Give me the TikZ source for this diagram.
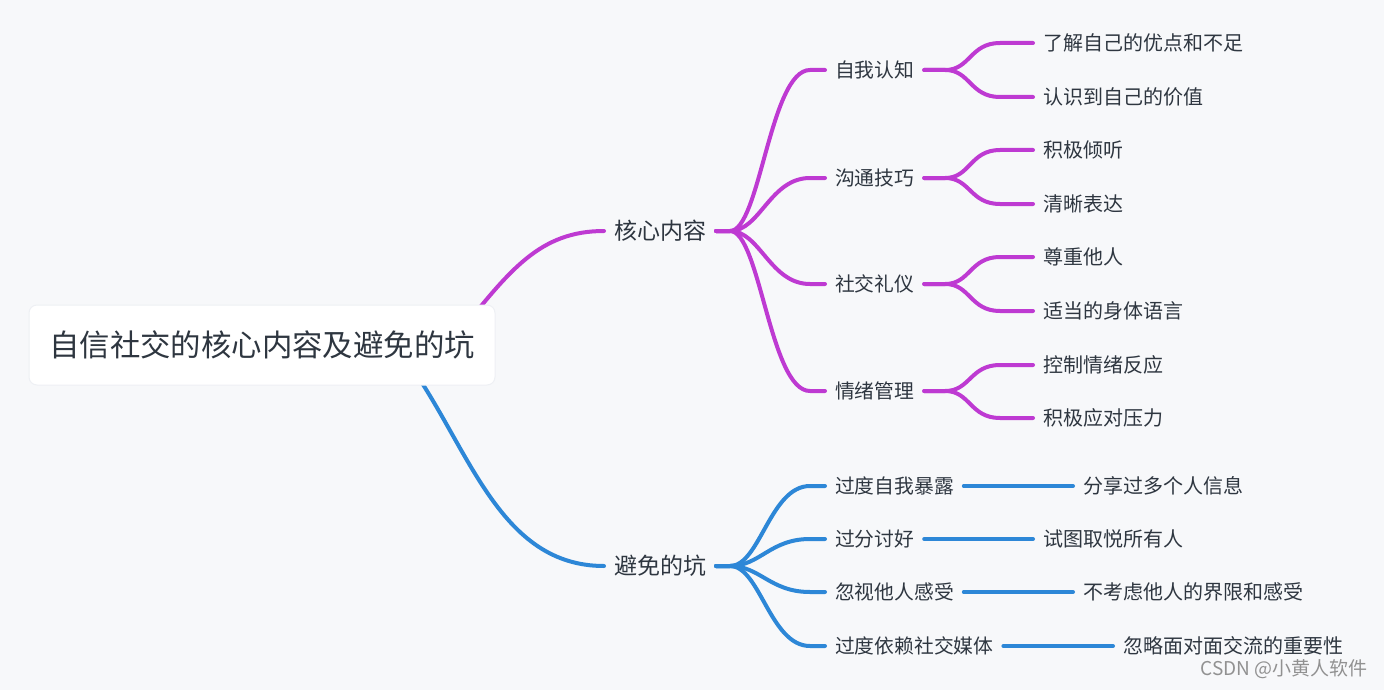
\documentclass[tikz,border=0pt]{standalone}
\usepackage{fontspec}
\setmainfont{Noto Sans CJK SC}
\definecolor{bg}{RGB}{247,248,250}
\definecolor{pur}{RGB}{190,58,210}
\definecolor{blu}{RGB}{45,135,215}
\definecolor{txt}{RGB}{46,54,64}
\definecolor{wm}{RGB}{145,145,145}
\definecolor{edge}{RGB}{238,240,244}
\tikzset{
  rootbox/.style={fill=white, draw=edge, line width=1pt, rounded corners=8pt, minimum width=466pt, minimum height=80pt, inner sep=0pt, text=txt, font=\fontsize{30.4}{36}\selectfont},
  lvlone/.style={anchor=west, inner sep=0pt, outer sep=10pt, text=txt, font=\fontsize{23}{28}\selectfont},
  lvltwo/.style={anchor=west, inner sep=0pt, outer sep=10pt, text=txt, font=\fontsize{19.8}{24}\selectfont},
  leaf/.style={anchor=west, inner sep=0pt, outer sep=10pt, text=txt, font=\fontsize{20}{24}\selectfont},
  purline/.style={draw=pur, line width=4pt, line cap=round},
  bluline/.style={draw=blu, line width=4pt, line cap=round},
}
\begin{document}
\begin{tikzpicture}[x=1pt,y=-1pt]
\fill[bg] (0,0) rectangle (1384,690);
\useasboundingbox (0,0) rectangle (1384,690);

% level 1 nodes
\node[lvlone] (core) at (604,231) {核心内容};
\node[lvlone] (avoid) at (604,566) {避免的坑};

% level 2 purple
\node[lvltwo] (a) at (825,70) {自我认知};
\node[lvltwo] (b) at (825,178) {沟通技巧};
\node[lvltwo] (c) at (825,284) {社交礼仪};
\node[lvltwo] (d) at (825,391) {情绪管理};

% leaves purple
\node[leaf] (a1) at (1033,43) {了解自己的优点和不足};
\node[leaf] (a2) at (1033,97) {认识到自己的价值};
\node[leaf] (b1) at (1033,150) {积极倾听};
\node[leaf] (b2) at (1033,204) {清晰表达};
\node[leaf] (c1) at (1033,257) {尊重他人};
\node[leaf] (c2) at (1033,311) {适当的身体语言};
\node[leaf] (d1) at (1033,365) {控制情绪反应};
\node[leaf] (d2) at (1033,418) {积极应对压力};

% level 2 blue
\node[lvltwo] (e) at (825,486) {过度自我暴露};
\node[lvltwo] (f) at (825,539) {过分讨好};
\node[lvltwo] (g) at (825,592) {忽视他人感受};
\node[lvltwo] (h) at (825,646) {过度依赖社交媒体};

% leaves blue
\node[leaf] (e1) at (1073,486) {分享过多个人信息};
\node[leaf] (f1) at (1033,539) {试图取悦所有人};
\node[leaf] (g1) at (1073,592) {不考虑他人的界限和感受};
\node[leaf] (h1) at (1113,646) {忽略面对面交流的重要性};

% root connectors (drawn before the box so it covers their start)
\coordinate (rp) at (460,332);
\coordinate (rb) at (410,365);
\draw[purline] (rp) .. controls (510,270) and (540,231) .. (core.west);
\draw[bluline] (rb) .. controls (470,450) and (500,566) .. (avoid.west);

% root node
\node[rootbox] (root) at (262,345) {自信社交的核心内容及避免的坑};

% level1 -> level2 purple
\foreach \n in {a,b,c,d}{
  \draw[purline] (core.east) -- ++(14,0) .. controls +(30,0) and +(-40,0) .. ([xshift=-15pt]\n.west) -- (\n.west);
}
% level2 -> leaves purple
\foreach \p/\q in {a/a1,a/a2,b/b1,b/b2,c/c1,c/c2,d/d1,d/d2}{
  \draw[purline] (\p.east) -- ++(21,0) .. controls +(25,0) and +(-30,0) .. ([xshift=-33pt]\q.west) -- (\q.west);
}
% level1 -> level2 blue
\foreach \n in {e,f,g,h}{
  \draw[bluline] (avoid.east) -- ++(14,0) .. controls +(30,0) and +(-40,0) .. ([xshift=-15pt]\n.west) -- (\n.west);
}
% level2 -> leaves blue
\foreach \p/\q in {e/e1,f/f1,g/g1,h/h1}{
  \draw[bluline] (\p.east) -- (\q.west);
}

% watermark
\node[anchor=east, inner sep=0pt, text=wm, font=\fontsize{19}{22}\selectfont] (wmk) at (1368,669) {CSDN @小黄人软件};
\end{tikzpicture}
\end{document}
